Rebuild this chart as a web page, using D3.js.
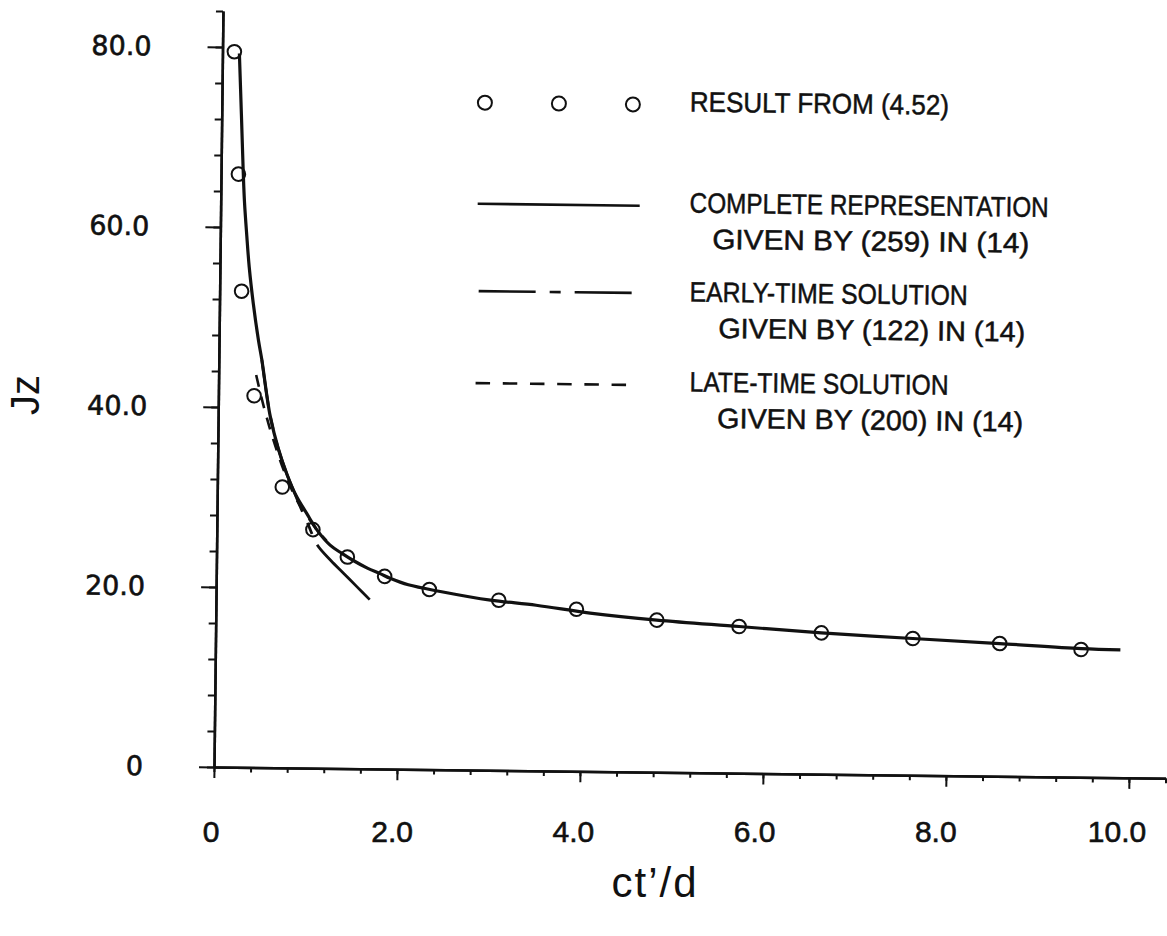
<!DOCTYPE html>
<html>
<head>
<meta charset="utf-8">
<script src="https://cdn.jsdelivr.net/npm/d3@7"></script>
<style>
  body { margin: 0; background: #fff; }
  svg { display: block; }
</style>
</head>
<body>
<svg id="chart" width="1167" height="936"></svg>
<script>
// Jz vs ct'/d

// circles: result from (4.52)
const resultX = [0.13, 0.19, 0.24, 0.39, 0.71, 1.05, 1.43, 1.84, 2.33, 3.09, 3.94, 4.82, 5.72, 6.62, 7.62, 8.57, 9.46];
const resultY = [79.5, 65.9, 52.9, 41.3, 31.2, 26.5, 23.5, 21.4, 20.0, 18.9, 18.0, 16.9, 16.3, 15.7, 15.2, 14.75, 14.2];

// complete representation, (259) in (14)
const completeX = [0.185, 0.215, 0.243, 0.26, 0.29, 0.32, 0.37, 0.43, 0.47, 0.53, 0.57, 0.66, 0.76, 0.86, 0.98, 1.1, 1.24, 1.37, 1.5, 1.65, 1.79, 1.9, 2.1, 2.45, 3.0, 3.5, 4.09, 4.82, 5.72, 6.62, 7.62, 8.57, 9.46, 9.89];
const completeY = [79.3, 72.5, 66.0, 62.8, 59.0, 55.6, 51.5, 47.5, 45.3, 41.3, 39.0, 35.5, 32.6, 30.3, 28.3, 26.4, 24.8, 23.9, 23.1, 22.3, 21.7, 21.2, 20.5, 19.8, 18.9, 18.4, 17.6, 16.9, 16.3, 15.7, 15.2, 14.75, 14.3, 14.2];

// early-time solution, (122) in (14)
const earlyX = [0.47, 0.53, 0.57, 0.66, 0.76, 0.86, 0.91, 1.0, 1.1, 1.25, 1.39, 1.54, 1.68];
const earlyY = [45.3, 41.3, 39.0, 35.5, 32.6, 30.2, 29.0, 27.0, 24.8, 23.1, 21.7, 20.2, 18.8];

// late-time solution, (200) in (14)
const lateX = [0.41, 0.5, 0.62, 0.75, 0.88, 1.0, 1.1, 1.2];
const lateY = [43.6, 40.0, 36.0, 32.4, 29.6, 27.8, 26.4, 25.3];

const xTicks = [0, 2, 4, 6, 8, 10];
const yTicks = [0, 20, 40, 60, 80];

const legendLabels = [
  ['RESULT FROM (4.52)'],
  ['COMPLETE REPRESENTATION', 'GIVEN BY (259) IN (14)'],
  ['EARLY-TIME SOLUTION', 'GIVEN BY (122) IN (14)'],
  ['LATE-TIME SOLUTION', 'GIVEN BY (200) IN (14)'],
];

////////////////////////////////////////////////////////////////////////////////
// Setup
const svg = d3.select('#chart');
const origin = { x: 214, y: 767 };
const ink = '#111';

// the scan is turned a little clockwise
const frame = svg.append('g')
  .attr('transform', `rotate(0.68, ${origin.x}, ${origin.y})`);

const x = d3.scaleLinear()
  .domain([0, 10.4])
  .range([origin.x, origin.x + 10.4 * 91.5]);
const y = d3.scaleLinear()
  .domain([0, 84])
  .range([origin.y, origin.y - 84 * 9]);

// x tick labels sit level under the tilted axis
const xLabel = d3.scaleLinear()
  .domain([0, 10])
  .range([211, 1117]);

const fmt = d => d === 0 ? '0' : d.toFixed(1);

////////////////////////////////////////////////////////////////////////////////
// Axes
const xMinor = d3.axisBottom(x)
  .tickValues(d3.range(0, 26.5).map(i => i * 0.4))
  .tickSize(5).tickSizeOuter(0).tickFormat('');
const xMajor = d3.axisBottom(x)
  .tickValues(xTicks)
  .tickSize(11).tickSizeOuter(0).tickFormat('');
const yMinor = d3.axisLeft(y)
  .tickValues(d3.range(0, 22).map(i => i * 4))
  .tickSize(7).tickSizeOuter(0).tickFormat('');
const yMajor = d3.axisLeft(y)
  .tickValues(yTicks)
  .tickSize(15).tickSizeOuter(0).tickPadding(56).tickFormat(fmt);

function styleAxis (g) {
  g.select('.domain').attr('stroke', ink).attr('stroke-width', 2.5);
  g.selectAll('.tick line').attr('stroke', ink).attr('stroke-width', 2);
  g.selectAll('.tick text')
    .attr('fill', ink)
    .attr('stroke', ink).attr('stroke-width', 0.6)
    .attr('font-family', 'DejaVu Sans')
    .attr('font-size', 27);
}

frame.append('g')
  .attr('transform', `translate(0, ${origin.y})`)
  .call(xMinor)
  .call(styleAxis);
frame.append('g')
  .attr('transform', `translate(0, ${origin.y})`)
  .call(xMajor)
  .call(styleAxis);
frame.append('g')
  .attr('transform', `translate(${origin.x}, 0)`)
  .call(yMinor)
  .call(styleAxis);
frame.append('g')
  .attr('transform', `translate(${origin.x}, 0)`)
  .call(yMajor)
  .call(styleAxis);

svg.append('g')
  .selectAll('text')
  .data(xTicks)
  .enter()
    .append('text')
    .attr('x', d => xLabel(d))
    .attr('y', 831)
    .attr('dy', '0.36em')
    .attr('text-anchor', 'middle')
    .attr('font-family', 'Liberation Sans').attr('font-size', 30)
    .attr('fill', ink).attr('stroke', ink).attr('stroke-width', 0.6)
    .text(fmt);

svg.append('text')
  .attr('x', 655).attr('y', 882).attr('dy', '0.35em')
  .attr('text-anchor', 'middle')
  .attr('font-family', 'Liberation Sans').attr('font-size', 42)
  .attr('letter-spacing', 2)
  .attr('fill', ink)
  .text('ct\u2019/d');

svg.append('text')
  .attr('transform', 'translate(25, 395) rotate(-90)')
  .attr('dy', '0.35em')
  .attr('text-anchor', 'middle')
  .attr('font-family', 'Liberation Sans').attr('font-size', 40)
  .attr('fill', ink)
  .text('Jz');

////////////////////////////////////////////////////////////////////////////////
// Curves and points
const line = d3.line()
  .x(d => x(d[0]))
  .y(d => y(d[1]))
  .curve(d3.curveCatmullRom.alpha(0.5));

// early-time is drawn from its far end so the long dash closes it
const series = [
  { xs: lateX, ys: lateY, width: 2.6, dash: '12,10', reverse: false },
  { xs: earlyX, ys: earlyY, width: 2.8, dash: '76,12,12,12', reverse: true },
  { xs: completeX, ys: completeY, width: 3.2, dash: null, reverse: false },
];

frame.append('g')
  .selectAll('path')
  .data(series)
  .enter()
    .append('path')
    .attr('d', s => {
      const pts = s.xs.map((v, i) => [v, s.ys[i]]);
      return line(s.reverse ? pts.reverse() : pts);
    })
    .attr('fill', 'none')
    .attr('stroke', ink)
    .attr('stroke-width', s => s.width)
    .attr('stroke-dasharray', s => s.dash);

frame.append('g')
  .selectAll('circle')
  .data(resultX.map((v, i) => [v, resultY[i]]))
  .enter()
    .append('circle')
    .attr('cx', d => x(d[0]))
    .attr('cy', d => y(d[1]))
    .attr('r', 6.8)
    .attr('fill', 'none')
    .attr('stroke', ink)
    .attr('stroke-width', 2);

////////////////////////////////////////////////////////////////////////////////
// Legend
const legend = frame.append('g');

legend.selectAll('circle')
  .data([477, 551, 625])
  .enter()
    .append('circle')
    .attr('cx', d => d).attr('cy', 99.5).attr('r', 7)
    .attr('fill', 'none').attr('stroke', ink).attr('stroke-width', 2);

const legendLines = [
  { x1: 471, x2: 633, y: 200.7, dash: null },
  { x1: 473, x2: 631, y: 288, dash: '57,14,11,14' },
  { x1: 471, x2: 622, y: 380, dash: '14.5,12.7' },
];
legend.selectAll('line')
  .data(legendLines)
  .enter()
    .append('line')
    .attr('x1', d => d.x1).attr('x2', d => d.x2)
    .attr('y1', d => d.y).attr('y2', d => d.y)
    .attr('stroke', ink).attr('stroke-width', 2.6)
    .attr('stroke-dasharray', d => d.dash);

// left edge, baseline and width for every text line
const legendLayout = [
  [[682, 106, 259]],
  [[683, 207, 359], [706, 243, 317]],
  [[684, 296, 278], [713, 332, 307]],
  [[685, 386, 259], [713, 422, 306]],
];

legendLabels.forEach((rows, i) => {
  rows.forEach((label, j) => {
    const [lx, ly, lw] = legendLayout[i][j];
    legend.append('text')
      .attr('x', lx).attr('y', ly)
      .attr('textLength', lw).attr('lengthAdjust', 'spacingAndGlyphs')
      .attr('font-family', 'Liberation Sans').attr('font-size', 28)
      .attr('fill', ink).attr('stroke', ink).attr('stroke-width', 0.5)
      .text(label);
  });
});
</script>
</body>
</html>
